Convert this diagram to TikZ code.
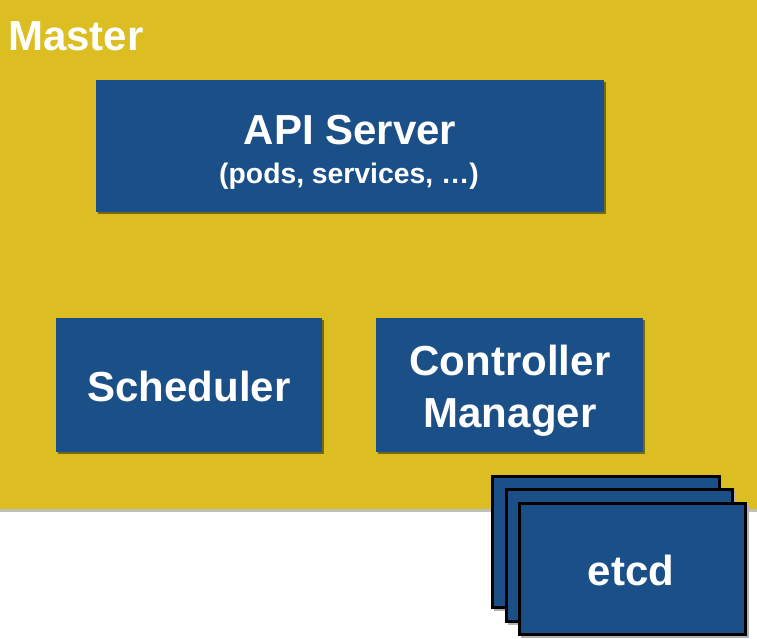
\documentclass[tikz,border=0pt]{standalone}
\usepackage{fontspec}
\setmainfont{Liberation Sans}
\definecolor{ylw}{HTML}{DCBE22}
\definecolor{kblue}{HTML}{1B4F87}
\begin{document}
\begin{tikzpicture}[x=1pt,y=-1pt,
  box/.style={fill=kblue,draw=none},
  shadow/.style={fill=black,fill opacity=0.45,draw=none},
  etcdbox/.style={fill=kblue,draw=black,line width=3pt},
  big/.style={text=white,font=\fontsize{42}{50}\selectfont\bfseries,inner sep=0pt},
  small/.style={text=white,font=\fontsize{28.3}{33}\selectfont\bfseries,inner sep=0pt}]
\useasboundingbox (0,0) rectangle (757,639);
% background
\fill[white] (0,0) rectangle (757,639);
\fill[black!25] (0,508) rectangle (757,512);
\fill[ylw] (0,0) rectangle (757,509);
\node[big,anchor=base west] (master) at (8,51) {Master};
% API server
\fill[shadow] (98,82) rectangle (606,214);
\fill[box] (96,80) rectangle (604,212);
\node[big,anchor=base] (api) at (350,145) {API Server};
\node[small,anchor=base] (apisub) at (349,184) {(pods, services, …)};
% Scheduler
\fill[shadow] (58,320) rectangle (324,454);
\fill[box] (56,318) rectangle (322,452);
\node[big,anchor=base] (sched) at (189,401) {Scheduler};
% Controller manager
\fill[shadow] (378,320) rectangle (645,454);
\fill[box] (376,318) rectangle (643,452);
\node[big,anchor=base] (cm1) at (510,375) {Controller};
\node[big,anchor=base] (cm2) at (510,427) {Manager};
% etcd stack
\fill[black!30] (494,478) rectangle (722,611);
\draw[etcdbox] (492,476) rectangle (719,607);
\fill[black!30] (508,491) rectangle (736,625);
\draw[etcdbox] (506,489) rectangle (732,621);
\fill[black!30] (521,505) rectangle (749,638);
\draw[etcdbox] (519,503) rectangle (745,634);
\node[big,anchor=base] (etcd) at (631,585) {etcd};
\end{tikzpicture}
\end{document}
